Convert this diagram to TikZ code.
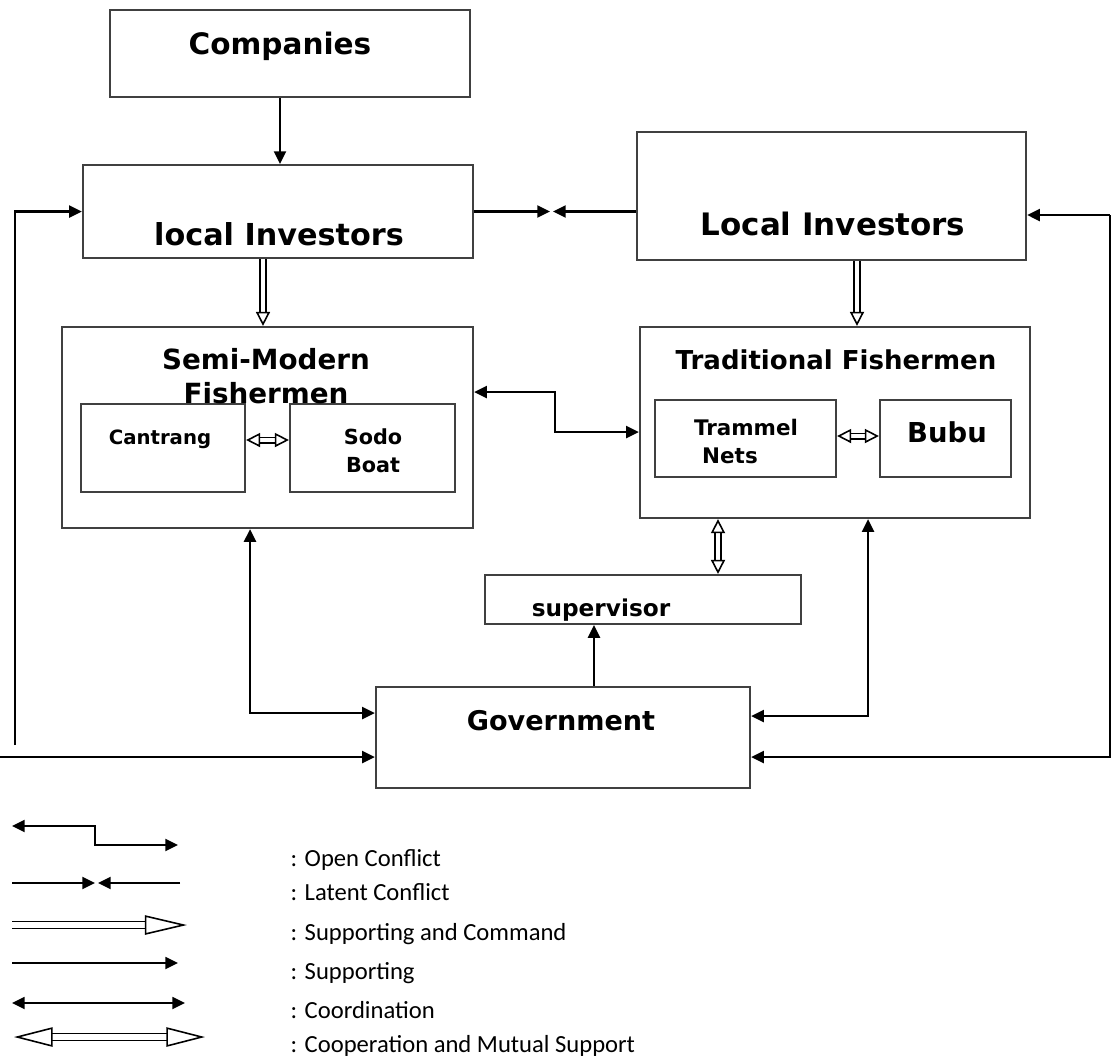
\documentclass[tikz,border=0pt]{standalone}
\usepackage{fontspec}
\setmainfont{DejaVu Sans}
\newfontfamily\legendfont{Carlito}
\usetikzlibrary{arrows.meta}

\tikzset{
  box/.style={draw=black!75, line width=0.6pt, inner sep=0pt},
  ttl/.style={font=\bfseries\fontsize{#1}{10}\selectfont, inner sep=0pt, text height=1.5ex, text depth=0pt},
  con/.style={line width=0.6pt, -{Triangle[length=3.6pt,width=3.4pt]}},
  dcon/.style={line width=0.6pt, {Triangle[length=3.6pt,width=3.4pt]}-{Triangle[length=3.6pt,width=3.4pt]}},
  hol/.style={double, double distance=1.1pt, line width=0.45pt, -{Triangle[open,length=4pt,width=4pt]}},
  dhol/.style={double, double distance=1.1pt, line width=0.45pt, {Triangle[open,length=4pt,width=4pt]}-{Triangle[open,length=4pt,width=4pt]}},
  lgd/.style={font=\legendfont\fontsize{7}{9}\selectfont, anchor=west, inner sep=0pt, text height=1.5ex, text depth=0pt}
}

\begin{document}
\begin{tikzpicture}[x=0.01cm, y=-0.01cm]
\useasboundingbox (0,0) rectangle (1112,1056);

% boxes
\node[box, minimum width=3.6cm, minimum height=0.87cm] (comp) at (290,53.5) {};
\node[box, minimum width=3.9cm, minimum height=0.93cm] (lli) at (278,211.5) {};
\node[box, minimum width=3.89cm, minimum height=1.28cm] (rli) at (831.5,196) {};
\node[box, minimum width=4.11cm, minimum height=2.01cm] (semi) at (267.5,427.5) {};
\node[box, minimum width=1.64cm, minimum height=0.88cm] (cant) at (163,448) {};
\node[box, minimum width=1.65cm, minimum height=0.88cm] (sodo) at (372.5,448) {};
\node[box, minimum width=3.9cm, minimum height=1.91cm] (trad) at (835,422.5) {};
\node[box, minimum width=1.81cm, minimum height=0.77cm] (tram) at (745.5,438.5) {};
\node[box, minimum width=1.31cm, minimum height=0.77cm] (bubu) at (945.5,438.5) {};
\node[box, minimum width=3.16cm, minimum height=0.49cm] (sup) at (643,599.5) {};
\node[box, minimum width=3.74cm, minimum height=1.01cm] (gov) at (563,737.5) {};

% labels
\node[ttl=8.4] (compT) at (280,40) {Companies};
\node[ttl=8.6] (lliT) at (279,231) {local Investors};
\node[ttl=8.8] (rliT) at (833,221) {Local Investors};
\node[ttl=7.9] (semiT) at (266,355) {Semi-Modern};
\node[ttl=7.9] (semiT2) at (266,389) {Fishermen};
\node[ttl=7.4] (tradT) at (836,355) {Traditional Fishermen};
\node[ttl=5.6] (cantT) at (160,430) {Cantrang};
\node[ttl=5.9] (sodoT) at (373,430) {Sodo};
\node[ttl=5.9] (sodoT2) at (373,458) {Boat};
\node[ttl=6.1] (tramT) at (746,421) {Trammel};
\node[ttl=6.1] (tramT2) at (730,449) {Nets};
\node[ttl=7.8] (bubuT) at (947,428) {Bubu};
\node[ttl=6.6] (supT) at (601,602) {supervisor};
\node[ttl=7.7] (govT) at (561,716) {Government};

% free ends
\coordinate (mL) at (550,211.5);
\coordinate (mR) at (553,211.5);
\coordinate (lbot) at (0,757);
\coordinate (lleft) at (15,745);
\coordinate (rtop) at (1110,215);

% connectors
\draw[con] (comp.south -| 280,0) -- (lli.north -| 280,0);
\draw[con] (lli.east) -- (mL);
\draw[con] (rli.west |- mR) -- (mR);
\draw[con] (lbot) -- (gov.west |- lbot);
\draw[con] (lleft) |- (lli.west);
\draw[con] (rtop) -- (rli.east |- rtop);
\draw[con] (rtop) |- (gov.east |- lbot);
\draw[dcon] (semi.east |- 0,392) -| (555,412) |- (trad.west |- 0,432);
\draw[dcon] (semi.south -| 250,0) |- (gov.west |- 0,713);
\draw[dcon] (trad.south -| 868,0) |- (gov.east |- 0,716);
\draw[con] (gov.north -| 594,0) -- (sup.south -| 594,0);
\draw[hol] (lli.south -| 263,0) -- (semi.north -| 263,0);
\draw[hol] (rli.south -| 857,0) -- (trad.north -| 857,0);
\draw[dhol] (cant.east |- 0,440) -- (sodo.west |- 0,440);
\draw[dhol] (tram.east |- 0,436) -- (bubu.west |- 0,436);
\draw[dhol] (trad.south -| 718,0) -- (sup.north -| 718,0);

% legend
\coordinate (oc1) at (12,826);
\coordinate (oc2) at (95,835);
\coordinate (oc3) at (178,845);
\coordinate (lc1) at (12,883);
\coordinate (lc2) at (95,883);
\coordinate (lc3) at (98,883);
\coordinate (lc4) at (180,883);
\coordinate (sc1) at (12,925);
\coordinate (sc2) at (187,925);
\coordinate (sp1) at (12,963);
\coordinate (sp2) at (178,963);
\coordinate (co1) at (12,1003);
\coordinate (co2) at (185,1003);
\coordinate (cm1) at (14,1037);
\coordinate (cm2) at (205,1037);
\draw[dcon] (oc1) -| (oc2) |- (oc3);
\draw[con] (lc1) -- (lc2);
\draw[con] (lc4) -- (lc3);
\draw[double, double distance=1.6pt, line width=0.45pt, -{Triangle[open,length=12pt,width=5.5pt]}] (sc1) -- (sc2);
\draw[con] (sp1) -- (sp2);
\draw[dcon] (co1) -- (co2);
\draw[double, double distance=1.6pt, line width=0.45pt, {Triangle[open,length=11pt,width=5.5pt]}-{Triangle[open,length=11pt,width=5.5pt]}] (cm1) -- (cm2);
\node[lgd] (l1) at (290,852) {: Open Conflict};
\node[lgd] (l2) at (290,886) {: Latent Conflict};
\node[lgd] (l3) at (290,926) {: Supporting and Command};
\node[lgd] (l4) at (290,965) {: Supporting};
\node[lgd] (l5) at (290,1004) {: Coordination};
\node[lgd] (l6) at (290,1038) {: Cooperation and Mutual Support};
\end{tikzpicture}
\end{document}
